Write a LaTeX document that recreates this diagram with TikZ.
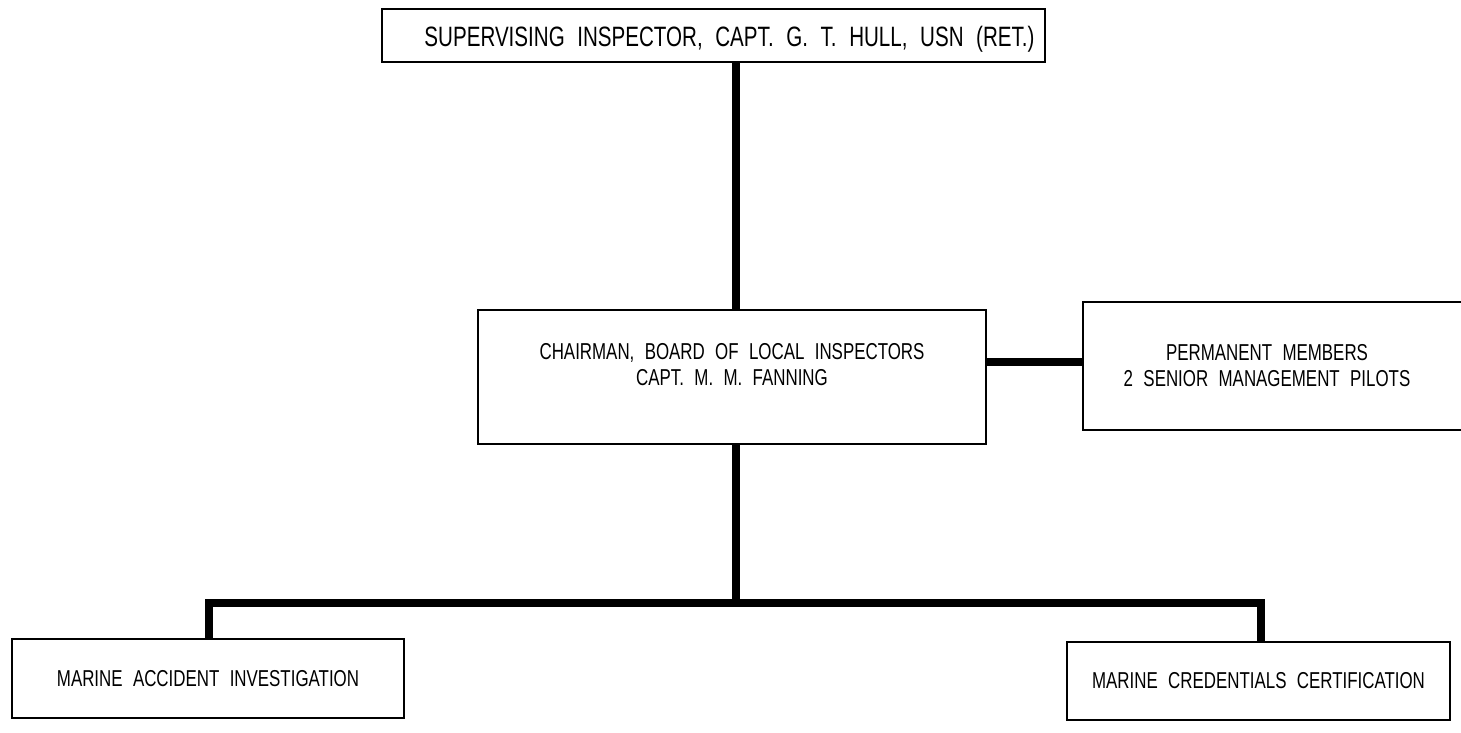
\documentclass[tikz,border=0pt]{standalone}
\usepackage{fontspec}
\newfontfamily\chartfont[FakeStretch=0.735]{Liberation Sans}
\begin{document}
\begin{tikzpicture}[x=1pt,y=-1pt,
  boxfont/.style={font={\chartfont\fontsize{23}{26}\selectfont\spaceskip=0.45em\relax}},
  bigtext/.style={font={\chartfont\fontsize{28}{32}\selectfont\spaceskip=0.45em\relax}},
  box/.style={draw=black,line width=2.6pt,fill=white,inner sep=0pt,align=center,boxfont},
  inner/.style={align=center,inner sep=0pt},
  conn/.style={draw=black,line width=7.5pt,line join=miter,line cap=butt}]
\useasboundingbox (0,0) rectangle (1461,733);

% boxes
\node[box,minimum width=663pt,minimum height=53pt,
  label={[inner,bigtext,xshift=16pt,yshift=-4pt]center:SUPERVISING INSPECTOR, CAPT. G. T. HULL, USN (RET.)}] (sup) at (713.5,35.5) {};
\node[box,minimum width=508pt,minimum height=134pt,
  label={[inner,boxfont,yshift=12pt]center:CHAIRMAN, BOARD OF LOCAL INSPECTORS\\CAPT. M. M. FANNING}] (chair) at (732,377) {};
\node[box,minimum width=397pt,minimum height=128pt,
  label={[inner,boxfont,xshift=-14.5pt]center:PERMANENT MEMBERS\\2 SENIOR MANAGEMENT PILOTS}] (perm) at (1281.5,366) {};
\node[box,minimum width=392pt,minimum height=79pt] (acc) at (208,678.5)
  {MARINE ACCIDENT INVESTIGATION};
\node[box,minimum width=383pt,minimum height=78pt] (cred) at (1258.5,681)
  {MARINE CREDENTIALS CERTIFICATION};

% junction points of the connector lines
\coordinate (spine) at (736,603);
\coordinate (left) at (209,603);
\coordinate (right) at (1261,603);
\coordinate (side) at (1000,362);

% connectors
\draw[conn] (spine |- sup.south) -- (spine |- chair.north);
\draw[conn] (chair.east |- side) -- (perm.west |- side);
\draw[conn] (spine |- chair.south) -- (spine);
\draw[conn] (acc.north -| left) -- (left) -- (right) -- (cred.north -| right);
\end{tikzpicture}
\end{document}
